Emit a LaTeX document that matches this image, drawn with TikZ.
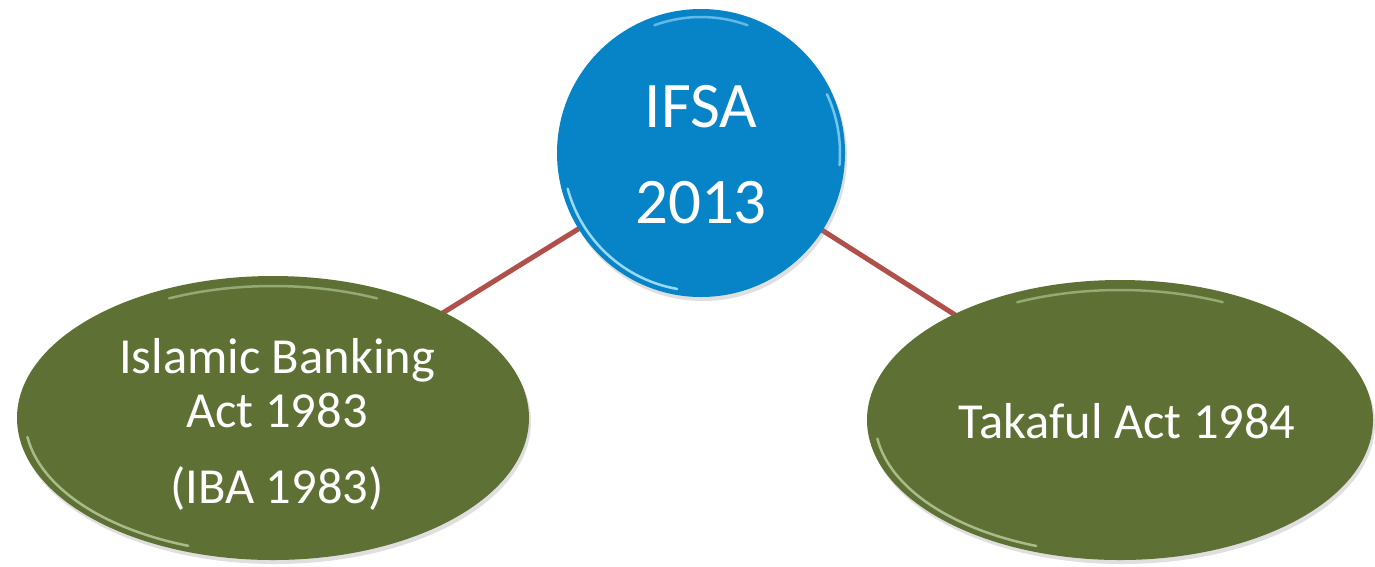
\documentclass[tikz,border=0pt]{standalone}
\usepackage{fontspec}
\setmainfont{Carlito}
\usetikzlibrary{shapes.geometric,shadows}
\definecolor{ifsablue}{HTML}{0784C8}
\definecolor{actgreen}{HTML}{5F7035}
\definecolor{linkred}{HTML}{B0504A}
\definecolor{rimlight}{HTML}{D8EFC0}
\definecolor{bluelight}{HTML}{BFEFFF}
\tikzset{
  hub/.style={circle, fill=ifsablue, minimum size=288pt, inner sep=0pt,
    drop shadow={shadow xshift=2pt, shadow yshift=-4pt, opacity=0.25}},
  act/.style={ellipse, fill=actgreen, inner sep=0pt,
    drop shadow={shadow xshift=2pt, shadow yshift=-4pt, opacity=0.25}},
  link/.style={draw=linkred, line width=5pt},
  hubtext/.style={text=white, font=\fontsize{65pt}{96pt}\selectfont, anchor=base},
  acttext/.style={text=white, font=\fontsize{50.5pt}{54pt}\selectfont, anchor=base},
  gloss/.style={line width=2.5pt, line cap=round}
}
\begin{document}
\begin{tikzpicture}[x=1pt,y=-1pt]
\useasboundingbox (0,0) rectangle (1375,566);
\fill[white] (0,0) rectangle (1375,566);
\coordinate (chub) at (701,153);
\coordinate (cleft) at (273,418);
\coordinate (cright) at (1120,420);
\draw[link] (chub) -- (cleft);
\draw[link] (chub) -- (cright);
\node[act, minimum width=512pt, minimum height=284pt] (iba) at (cleft) {};
\node[act, minimum width=506pt, minimum height=280pt] (tak) at (cright) {};
\node[hub] (ifsa) at (chub) {};
% glossy rims (y axis is flipped: visual angle v is tikz angle -v)
\draw[gloss, bluelight, opacity=0.8] (chub) ++(-195:138) arc[start angle=-195, end angle=-260, radius=138];
\draw[gloss, bluelight, opacity=0.6] (chub) ++(-355:139) arc[start angle=-355, end angle=-385, radius=139];
\draw[gloss, bluelight, opacity=0.5] (chub) ++(-70:136) arc[start angle=-70, end angle=-110, radius=136];
\draw[gloss, rimlight, opacity=0.6] (cleft) ++(-188:248 and 136) arc[start angle=-188, end angle=-250, x radius=248, y radius=136];
\draw[gloss, rimlight, opacity=0.45] (cleft) ++(-65:246 and 132) arc[start angle=-65, end angle=-115, x radius=246, y radius=132];
\draw[gloss, rimlight, opacity=0.6] (cright) ++(-188:245 and 134) arc[start angle=-188, end angle=-250, x radius=245, y radius=134];
\draw[gloss, rimlight, opacity=0.45] (cright) ++(-65:243 and 130) arc[start angle=-65, end angle=-115, x radius=243, y radius=130];
% texts
\node[hubtext] (ifsatxt) at (701,127) {IFSA};
\node[hubtext] (yeartxt) at (701,223) {2013};
\node[acttext] (ibal1) at (277,373) {Islamic Banking};
\node[acttext] (ibal2) at (277,427) {Act 1983};
\node[acttext] (ibal3) at (277,503) {(IBA 1983)};
\node[acttext] (taktxt) at (1127,438) {Takaful Act 1984};
\end{tikzpicture}
\end{document}
